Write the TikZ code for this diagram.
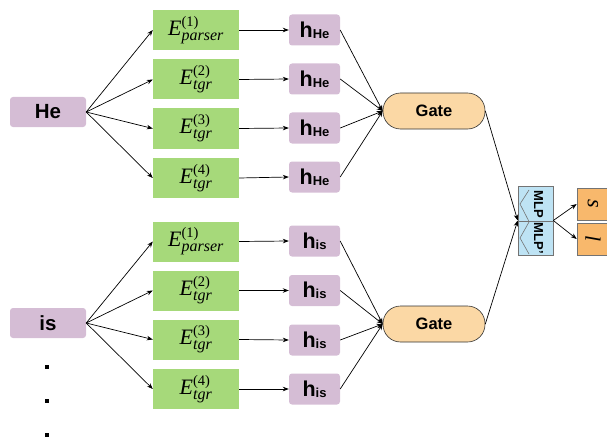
\documentclass[tikz,border=0pt]{standalone}
\usepackage{fontspec}
\setmainfont{Liberation Serif}
\setsansfont{Liberation Sans}
\usetikzlibrary{arrows.meta}
\definecolor{purp}{RGB}{213,189,213}
\definecolor{grn}{RGB}{166,217,122}
\definecolor{gatec}{RGB}{251,216,165}
\definecolor{mlpc}{RGB}{190,227,244}
\definecolor{outc}{RGB}{248,184,108}
\newcommand\Elab[2]{$\hbox{\fontsize{22}{22}\selectfont\itshape E}^{\hbox{\fontsize{14.5}{15}\selectfont(#1)}}_{\hbox{\fontsize{16}{16}\selectfont\itshape #2}}$}
\newcommand\hlab[1]{{\fontsize{21.5}{22}\selectfont h}\raisebox{-1pt}{\fontsize{13}{13}\selectfont #1}}
\tikzset{
  tok/.style={fill=purp, rounded corners=3pt, minimum width=76, minimum height=30, inner sep=0, font=\sffamily\bfseries\fontsize{20.5}{22}\selectfont},
  enc/.style={fill=grn, minimum width=86, minimum height=40, inner sep=0, font=\fontsize{21}{21}\selectfont},
  hb/.style={fill=purp, rounded corners=3pt, minimum width=51, minimum height=31, inner sep=0, font=\sffamily\bfseries},
  gate/.style={draw=black!80, line width=0.6pt, fill=gatec, rounded corners=17.5pt, minimum width=102, minimum height=36, inner sep=0, font=\sffamily\bfseries\fontsize{16.5}{18}\selectfont},
  mlpbox/.style={draw=black!55, line width=0.6pt, fill=mlpc, minimum width=35, minimum height=69, inner sep=0},
  outbox/.style={draw=black!55, line width=0.6pt, fill=outc, minimum width=32, minimum height=32, inner sep=0},
  mlptxt/.style={rotate=-90, inner sep=0, font=\sffamily\bfseries\fontsize{13}{13}\selectfont},
  outtxt/.style={rotate=-90, inner sep=0, font=\fontsize{22}{22}\selectfont\itshape},
  arr/.style={-{Stealth[length=6pt,width=4.5pt]}, line width=0.7pt},
  dotsq/.style={fill=black, minimum size=4, inner sep=0}
}
\begin{document}
\begin{tikzpicture}[x=1pt,y=-1pt]
\useasboundingbox (0,0) rectangle (607,441);
% tokens
\node[tok] (he) at (48,112) {He};
\node[tok] (is) at (48,323) {is};
% encoders top
\node[enc] (e11) at (196,30) {\Elab{1}{parser}};
\node[enc] (e12) at (196,79.5) {\Elab{2}{tgr}};
\node[enc] (e13) at (196,128.5) {\Elab{3}{tgr}};
\node[enc] (e14) at (196,178) {\Elab{4}{tgr}};
% encoders bottom
\node[enc] (e21) at (196,241.5) {\Elab{1}{parser}};
\node[enc] (e22) at (196,290.5) {\Elab{2}{tgr}};
\node[enc] (e23) at (196,339.5) {\Elab{3}{tgr}};
\node[enc] (e24) at (196,389) {\Elab{4}{tgr}};
% hidden top
\node[hb] (h11) at (314.5,30) {\hlab{He}};
\node[hb] (h12) at (314.5,79) {\hlab{He}};
\node[hb] (h13) at (314.5,128) {\hlab{He}};
\node[hb] (h14) at (314.5,177) {\hlab{He}};
% hidden bottom
\node[hb] (h21) at (314.5,241) {\hlab{is}};
\node[hb] (h22) at (314.5,290.5) {\hlab{is}};
\node[hb] (h23) at (314.5,340) {\hlab{is}};
\node[hb] (h24) at (314.5,389) {\hlab{is}};
% gates
\node[gate] (g1) at (434,111) {Gate};
\node[gate] (g2) at (434,324) {Gate};
% MLP
\node[mlpbox] (mlp) at (535.5,220.5) {};
\draw[draw=black!55, line width=0.6pt] (mlp.west |- 0,221.5) -- (mlp.east |- 0,221.5);
\draw[draw=black!55, line width=0.6pt] (529,190) -- (520,204) -- (529,221.5);
\draw[draw=black!55, line width=0.6pt] (529,222) -- (520,238) -- (529,254);
\node[mlptxt] (mlpa) at (538.5,204) {MLP};
\node[mlptxt] (mlpb) at (538.5,238.5) {MLP'};
% outputs
\node[outbox] (os) at (593,204) {};
\node[outbox] (ol) at (593,239) {};
\node[outtxt] (ts) at (os) {s};
\node[outtxt] (tl) at (ol) {l};
% dots
\node[dotsq] (d1) at (47,367) {};
\node[dotsq] (d2) at (47,401) {};
\node[dotsq] (d3) at (47,435) {};
% connectors
\foreach \i in {1,2,3,4}{
  \draw[arr] (he.east) -- (e1\i.west);
  \draw[arr] (is.east) -- (e2\i.west);
  \draw[arr] (e1\i.east) -- (h1\i.west);
  \draw[arr] (e2\i.east) -- (h2\i.west);
  \draw[arr] (h1\i.east) -- (g1.west);
  \draw[arr] (h2\i.east) -- (g2.west);
}
\draw[arr] (g1.east) -- (mlp.west);
\draw[arr] (g2.east) -- (mlp.west);
\draw[arr] (mlp.east) -- (os.west);
\draw[arr] (mlp.east) -- (ol.west);
\end{tikzpicture}
\end{document}
